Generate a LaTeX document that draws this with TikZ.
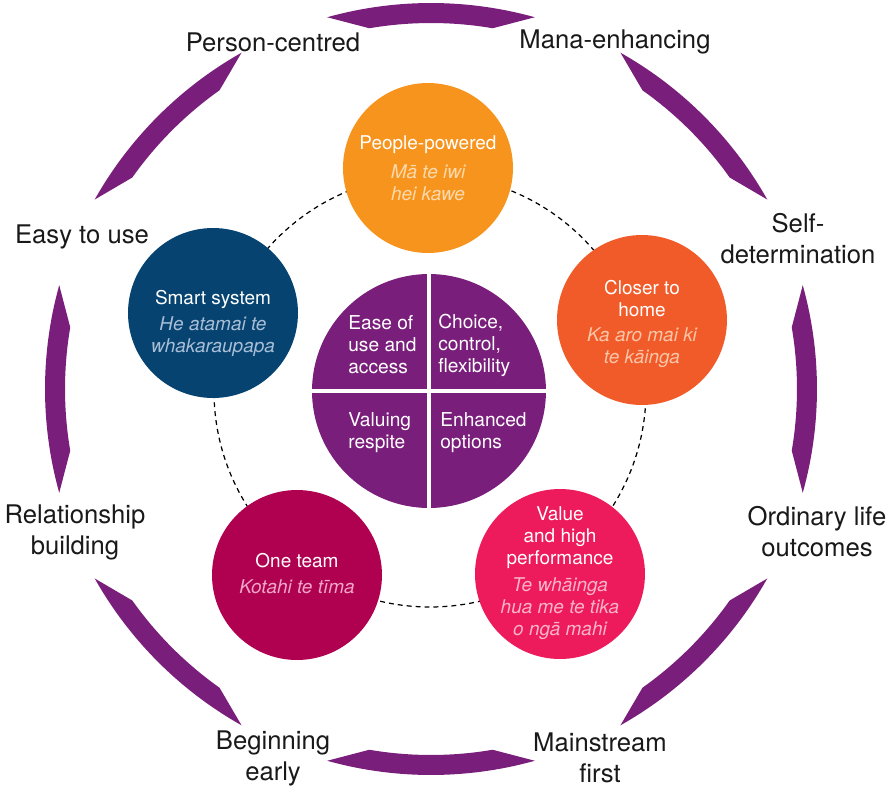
\documentclass[tikz,border=0pt]{standalone}
\usepackage{fontspec}
\setmainfont{TeX Gyre Heros}
\usepackage{xcolor}
\usetikzlibrary{calc}

\definecolor{ringpurple}{RGB}{122,30,123}
\definecolor{peopleorange}{RGB}{247,148,30}
\definecolor{peoplepale}{RGB}{253,218,172}
\definecolor{smartblue}{RGB}{6,67,112}
\definecolor{smartpale}{RGB}{168,190,214}
\definecolor{homeorange}{RGB}{241,91,41}
\definecolor{homepale}{RGB}{251,198,168}
\definecolor{teamred}{RGB}{176,0,80}
\definecolor{teampale}{RGB}{240,166,200}
\definecolor{valuepink}{RGB}{237,26,92}
\definecolor{valuepale}{RGB}{250,180,200}

\begin{document}
\begin{tikzpicture}[x=0.02cm, y=0.02cm,
		outer/.style = {font=\fontsize{14.6}{17.6}\selectfont, align=center, inner sep=0pt, text=black!90},
		principle/.style = {circle, minimum size=3.4cm, inner sep=0pt},
		title/.style = {font=\fontsize{10.8}{12.5}\selectfont, align=center, inner sep=0pt, text=white},
		maori/.style = {font=\fontsize{10.8}{12.5}\selectfont\itshape, align=center, inner sep=0pt},
		quarter/.style = {font=\fontsize{10.9}{12.5}\selectfont, align=left, anchor=west, inner sep=0pt, text=white}]
		\useasboundingbox (-430,-399) rectangle (457,390);
		
		% outer ring of tapered arcs
		\coordinate (ring) at (1,1);
		\foreach \a in {0,45,...,315}
		\fill[ringpurple] ($(ring)+(\a-15.6:386)$) arc[start angle=\a-15.6, end angle=\a+15.6, radius=386]
		-- ($(ring)+(\a+9.7:366)$) arc[start angle=\a+9.7, end angle=\a-9.7, radius=366] -- cycle;
		
		\begin{scope}
		\node[outer] (person) at (-157,348) {Person-centred};
		\node[outer] (mana) at (185,348) {Mana-enhancing};
		\node[outer] (easy) at (-348,153) {Easy to use};
		\node[outer] (self) at (368,151) {Self-\\determination};
		\node[outer] (relation) at (-355,-142) {Relationship\\building};
		\node[outer] (ordinary) at (387,-142) {Ordinary life\\outcomes};
		\node[outer] (early) at (-157,-368) {Beginning\\early};
		\node[outer] (mainstream) at (170,-368) {Mainstream\\first};
		\end{scope}
		
		\draw[line width=0.7pt, dash pattern=on 2.8pt off 2.3pt] (0,-1) circle [radius=216];
		
		% centre hub split in four
		\node[circle, fill=ringpurple, minimum size=4.68cm, inner sep=0pt] (hub) at (-1,-1) {};
		\draw[white, line width=1.8pt] (hub.north) -- (hub.south);
		\draw[white, line width=1.8pt] (hub.west) -- (hub.east);
		\node[quarter] (ease) at (-82,45) {Ease of\\use and\\access};
		\node[quarter] (choice) at (8,45) {Choice,\\control,\\flexibility};
		\node[quarter] (respite) at (-82,-43) {Valuing\\respite};
		\node[quarter] (options) at (10,-43) {Enhanced\\options};
		
		\begin{scope}
		\node[principle, fill=peopleorange] (people) at (-2,222) {};
		\node[title] (people-en) at ($(people)+(0,23)$) {People-powered};
		\node[maori, text=peoplepale] (people-mi) at ($(people)+(0,-14.5)$) {Mā te iwi\\hei kawe};
		
		\node[principle, fill=smartblue] (smart) at (-217,77) {};
		\node[title] (smart-en) at ($(smart)+(0,14)$) {Smart system};
		\node[maori, text=smartpale] (smart-mi) at ($(smart)+(0,-24)$) {He atamai te\\whakaraupapa};
		
		\node[principle, fill=homeorange] (home) at (212,70) {};
		\node[title] (home-en) at ($(home)+(0,21)$) {Closer to\\home};
		\node[maori, text=homepale] (home-mi) at ($(home)+(0,-28)$) {Ka aro mai ki\\te kāinga};
		
		\node[principle, fill=teamred] (team) at (-133,-185) {};
		\node[title] (team-en) at ($(team)+(0,14)$) {One team};
		\node[maori, text=teampale] (team-mi) at ($(team)+(0,-12)$) {Kotahi te tīma};
		
		\node[principle, fill=valuepink] (value) at (130,-184) {};
		\node[title] (value-en) at ($(value)+(0,36)$) {Value\\and high\\performance};
		\node[maori, text=valuepale] (value-mi) at ($(value)+(0,-35)$) {Te whāinga\\hua me te tika\\o ngā mahi};
		\end{scope}
	\end{tikzpicture}
\end{document}
